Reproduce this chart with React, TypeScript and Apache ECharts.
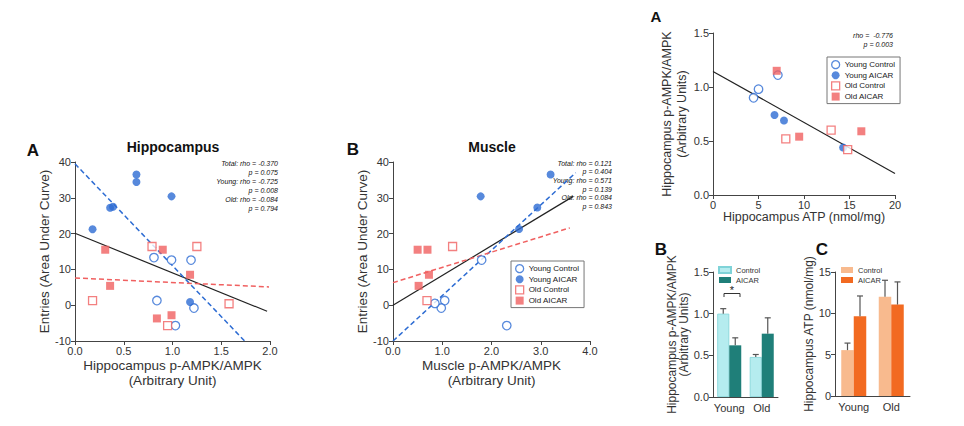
import React, { useEffect, useRef } from "react";
import * as echarts from "echarts";

// ---------- Data ----------
// Panel A (Hippocampus): [p-AMPK/AMPK, entries AUC]
const hippoYoungControl = [[0.81, 13.3], [0.99, 12.6], [1.19, 12.6], [0.84, 1.3], [1.03, -5.7], [1.22, -0.8]];
const hippoYoungAicar = [[0.18, 21.2], [0.36, 27.2], [0.39, 27.5], [0.63, 36.5], [0.63, 34.4], [0.99, 30.4], [1.18, 0.9]];
const hippoOldControl = [[0.79, 16.4], [1.25, 16.4], [0.18, 1.3], [0.95, -5.7], [1.58, 0.4]];
const hippoOldAicar = [[0.31, 15.5], [0.36, 5.4], [0.9, 15.5], [1.18, 8.5], [0.84, -3.7], [0.99, -2.8]];
const hippoTotalFit = [[0, 20.1], [1.97, -1.7]];
const hippoYoungFit = [[0, 39.5], [1.74, -10]];
const hippoOldFit = [[0, 7.6], [1.99, 5.1]];

// Panel B (Muscle)
const muscleYoungControl = [[1.8, 12.6], [1.05, 1.3], [0.98, -0.8], [0.85, 0.5], [2.31, -5.7]];
const muscleYoungAicar = [[1.78, 30.4], [3.2, 36.5], [2.93, 27.3], [2.56, 21.3]];
const muscleOldControl = [[1.21, 16.4], [0.69, 1.3]];
const muscleOldAicar = [[0.5, 15.5], [0.7, 15.5], [0.73, 8.5], [0.52, 5.4]];
const muscleTotalFit = [[0, 0], [3.66, 30.4]];
const muscleYoungFit = [[0, -10], [3.71, 37]];
const muscleOldFit = [[0, 6.3], [3.59, 21.6]];

// Right panel A: [ATP, p-AMPK/AMPK]
const atpYoungControl = [[4.46, 0.9], [5.0, 0.98], [7.13, 1.11]];
const atpYoungAicar = [[6.76, 0.74], [7.8, 0.69], [14.3, 0.44]];
const atpOldControl = [[8.0, 0.52], [12.98, 0.6], [14.8, 0.42]];
const atpOldAicar = [[7.0, 1.15], [9.47, 0.54], [16.3, 0.59]];
const atpFit = [[0, 1.144], [20, 0.2]];

// Bars
const groups = ["Young", "Old"];
const pampkControl = [1.0, 0.48];
const pampkControlTop = [1.06, 0.51];
const pampkAicar = [0.62, 0.76];
const pampkAicarTop = [0.71, 0.95];
const atpControl = [5.55, 12.0];
const atpControlTop = [6.4, 14.0];
const atpAicar = [9.65, 11.06];
const atpAicarTop = [12.1, 13.8];

// ---------- Styles ----------
const FONT = "'Liberation Sans', Arial, Helvetica, sans-serif";
const BLUE = "#2d6cd3";
const RED = "#f06060";
const AXIS = "#444";
const TXT = "#333";

const scatterNames = ["Young Control", "Young AICAR", "Old Control", "Old AICAR"];

function valueAxis(gridIndex: number, min: number, max: number, interval: number, dec: number, extra: any = {}) {
  return {
    type: "value",
    gridIndex,
    min,
    max,
    interval,
    axisLine: { show: true, onZero: false, lineStyle: { color: AXIS, width: 1 } },
    axisTick: { show: true, length: 4, lineStyle: { color: AXIS } },
    axisLabel: {
      fontSize: 11,
      color: TXT,
      fontFamily: FONT,
      margin: 4,
      formatter: (v: number) => v.toFixed(dec),
    },
    splitLine: { show: false },
    nameLocation: "middle",
    nameTextStyle: { fontFamily: FONT, color: TXT, fontSize: 13 },
    ...extra,
  };
}

function scatterSeries(gi: number, sets: number[][][]) {
  const styles = [
    { symbol: "circle", itemStyle: { color: "#ffffff", borderColor: BLUE, borderWidth: 1.3 } },
    { symbol: "circle", itemStyle: { color: BLUE } },
    { symbol: "rect", itemStyle: { color: "#ffffff", borderColor: RED, borderWidth: 1.3 } },
    { symbol: "rect", itemStyle: { color: RED } },
  ];
  return sets.map((d, i) => ({
    type: "scatter",
    name: scatterNames[i],
    xAxisIndex: gi,
    yAxisIndex: gi,
    data: d,
    symbol: styles[i].symbol,
    symbolSize: i === 0 ? 8.5 : 8,
    itemStyle: styles[i].itemStyle,
    z: 3,
  }));
}

function fitSeries(gi: number, data: number[][], color: string, dashed: boolean) {
  return {
    type: "line",
    name: "fit",
    xAxisIndex: gi,
    yAxisIndex: gi,
    data,
    symbol: "none",
    silent: true,
    lineStyle: { color, width: dashed ? 1.5 : 1.2, type: dashed ? [5, 3] : "solid" },
    z: 2,
  };
}

function errorSeries(gi: number, means: number[], tops: number[], offset: number) {
  return {
    type: "custom",
    xAxisIndex: gi,
    yAxisIndex: gi,
    data: means.map((m, i) => [i, m, tops[i]]),
    encode: { x: 0, y: [1, 2] },
    silent: true,
    z: 4,
    renderItem: (params: any, api: any) => {
      const base = api.coord([api.value(0), api.value(1)]);
      const top = api.coord([api.value(0), api.value(2)]);
      const x = base[0] + offset;
      return {
        type: "group",
        children: [
          { type: "line", shape: { x1: x, y1: base[1], x2: x, y2: top[1] }, style: { stroke: "#555", lineWidth: 1.2 } },
          { type: "line", shape: { x1: x - 3, y1: top[1], x2: x + 3, y2: top[1] }, style: { stroke: "#555", lineWidth: 1.2 } },
        ],
      };
    },
  };
}

function scatterLegend(left: number, top: number) {
  return {
    orient: "vertical",
    left,
    top,
    padding: [3, 5, 3, 4],
    borderColor: "#777",
    borderWidth: 1,
    itemWidth: 8,
    itemHeight: 8,
    itemGap: 2,
    textStyle: { fontSize: 8, color: "#222", fontFamily: FONT },
    selectedMode: false,
    data: [
      { name: "Young Control", icon: "circle", itemStyle: { color: "#ffffff", borderColor: BLUE, borderWidth: 1.3 } },
      { name: "Young AICAR", icon: "circle", itemStyle: { color: BLUE } },
      { name: "Old Control", icon: "rect", itemStyle: { color: "#ffffff", borderColor: RED, borderWidth: 1.3 } },
      { name: "Old AICAR", icon: "rect", itemStyle: { color: RED } },
    ],
  };
}

function barLegend(left: number, top: number, prefix: string, c1: string, c2: string) {
  return {
    orient: "vertical",
    left,
    top,
    padding: 0,
    itemWidth: 12,
    itemHeight: 6,
    itemGap: 2,
    textStyle: { fontSize: 7.5, color: "#333", fontFamily: FONT },
    selectedMode: false,
    formatter: (n: string) => n.replace(prefix, ""),
    data: [
      { name: prefix + "Control", icon: "rect", itemStyle: { color: c1 } },
      { name: prefix + "AICAR", icon: "rect", itemStyle: { color: c2 } },
    ],
  };
}

const PAMPK_C = "#b5ecef";
const PAMPK_A = "#1f7f79";
const ATP_C = "#f8ba8e";
const ATP_A = "#f26a21";

function categoryAxis(gi: number) {
  return {
    type: "category",
    gridIndex: gi,
    data: groups,
    axisLine: { show: true, lineStyle: { color: AXIS } },
    axisTick: { show: false },
    axisLabel: { interval: 0, fontSize: 11, color: TXT, fontFamily: FONT, margin: 5 },
  };
}

function text(x: number, y: number, t: string, font: string, align = "center", vAlign = "middle", extra: any = {}) {
  return {
    type: "text",
    x,
    y,
    silent: true,
    style: { text: t, font, textAlign: align, textVerticalAlign: vAlign, fill: "#111", ...extra },
  };
}

export default function App() {
  const ref = useRef<HTMLDivElement>(null);
  useEffect(() => {
    document.body.style.margin = "0";
    if (!ref.current) return;
    const chart = echarts.init(ref.current, undefined, { renderer: "svg" });
    const italic = `italic 7px ${FONT}`;
    const option: any = {
      animation: false,
      backgroundColor: "#ffffff",
      textStyle: { fontFamily: FONT },
      grid: [
        { left: 75, top: 162, width: 195, height: 179 },
        { left: 393, top: 162, width: 197, height: 179 },
        { left: 713, top: 33, width: 182, height: 162 },
        { left: 713, top: 272, width: 65, height: 125 },
        { left: 835, top: 272, width: 75, height: 124 },
      ],
      xAxis: [
        valueAxis(0, 0, 2, 0.5, 1, { name: "Hippocampus p-AMPK/AMPK\n(Arbitrary Unit)", nameGap: 17, nameTextStyle: { fontFamily: FONT, color: TXT, fontSize: 13.5, lineHeight: 15 } }),
        valueAxis(1, 0, 4, 1, 1, { name: "Muscle p-AMPK/AMPK\n(Arbitrary Unit)", nameGap: 17, nameTextStyle: { fontFamily: FONT, color: TXT, fontSize: 13.5, lineHeight: 15 } }),
        valueAxis(2, 0, 20, 5, 0, { name: "Hippocampus ATP (nmol/mg)", nameGap: 14, nameTextStyle: { fontFamily: FONT, color: TXT, fontSize: 12.5 } }),
        categoryAxis(3),
        categoryAxis(4),
      ],
      yAxis: [
        valueAxis(0, -10, 40, 10, 0, { name: "Entries (Area Under Curve)", nameGap: 20, nameTextStyle: { fontFamily: FONT, color: TXT, fontSize: 13.5 } }),
        valueAxis(1, -10, 40, 10, 0, { name: "Entries (Area Under Curve)", nameGap: 19, nameTextStyle: { fontFamily: FONT, color: TXT, fontSize: 13.5 } }),
        valueAxis(2, 0, 1.5, 0.5, 1, { name: "Hippocampus p-AMPK/AMPK\n(Arbitrary Units)", nameGap: 16, nameTextStyle: { fontFamily: FONT, color: TXT, fontSize: 12.5, lineHeight: 15 } }),
        valueAxis(3, 0, 1.5, 0.5, 1, { name: "Hippocampus p-AMPK/AMPK\n(Arbitrary Units)", nameGap: 12, nameTextStyle: { fontFamily: FONT, color: TXT, fontSize: 12, lineHeight: 12 } }),
        valueAxis(4, 0, 15, 5, 0, { name: "Hippocampus ATP (nmol/mg)", nameGap: 12, nameTextStyle: { fontFamily: FONT, color: TXT, fontSize: 12 } }),
      ],
      legend: [
        scatterLegend(511, 261),
        scatterLegend(827, 57),
        barLegend(718, 266, "p-AMPK ", PAMPK_C, PAMPK_A),
        barLegend(841, 266, "ATP ", ATP_C, ATP_A),
      ],
      series: [
        fitSeries(0, hippoTotalFit, "#222", false),
        fitSeries(0, hippoYoungFit, BLUE, true),
        fitSeries(0, hippoOldFit, RED, true),
        ...scatterSeries(0, [hippoYoungControl, hippoYoungAicar, hippoOldControl, hippoOldAicar]),
        fitSeries(1, muscleTotalFit, "#222", false),
        fitSeries(1, muscleYoungFit, BLUE, true),
        fitSeries(1, muscleOldFit, RED, true),
        ...scatterSeries(1, [muscleYoungControl, muscleYoungAicar, muscleOldControl, muscleOldAicar]),
        fitSeries(2, atpFit, "#222", false),
        ...scatterSeries(2, [atpYoungControl, atpYoungAicar, atpOldControl, atpOldAicar]),
        {
          type: "bar", name: "p-AMPK Control", xAxisIndex: 3, yAxisIndex: 3, data: pampkControl,
          barWidth: 12, barGap: "0%", itemStyle: { color: PAMPK_C, borderColor: "#7fd3d8", borderWidth: 0.8 },
        },
        {
          type: "bar", name: "p-AMPK AICAR", xAxisIndex: 3, yAxisIndex: 3, data: pampkAicar,
          barWidth: 12, barGap: "0%", itemStyle: { color: PAMPK_A },
        },
        errorSeries(3, pampkControl, pampkControlTop, -6),
        errorSeries(3, pampkAicar, pampkAicarTop, 6),
        {
          type: "bar", name: "ATP Control", xAxisIndex: 4, yAxisIndex: 4, data: atpControl,
          barWidth: 12.5, barGap: "0%", itemStyle: { color: ATP_C },
        },
        {
          type: "bar", name: "ATP AICAR", xAxisIndex: 4, yAxisIndex: 4, data: atpAicar,
          barWidth: 12.5, barGap: "0%", itemStyle: { color: ATP_A },
        },
        errorSeries(4, atpControl, atpControlTop, -6.25),
        errorSeries(4, atpAicar, atpAicarTop, 6.25),
      ],
      graphic: [
        text(33, 150, "A", `bold 17px ${FONT}`),
        text(173, 147, "Hippocampus", `bold 14px ${FONT}`),
        text(353, 149, "B", `bold 17px ${FONT}`),
        text(492, 147, "Muscle", `bold 14px ${FONT}`),
        text(656, 16, "A", `bold 15px ${FONT}`),
        text(661, 249, "B", `bold 17px ${FONT}`),
        text(822, 249, "C", `bold 17px ${FONT}`),
        text(278, 159, "Total: rho = -0.370\np = 0.075\nYoung: rho = -0.725\np = 0.008\nOld: rho = -0.084\np = 0.794", italic, "right", "top", { lineHeight: 9 }),
        text(612, 159, "Total: rho = 0.121\np = 0.404\nYoung: rho = 0.571\np = 0.139\nOld: rho = 0.084\np = 0.843", italic, "right", "top", { lineHeight: 8.6 }),
        text(893, 31, "rho =  -0.776\np = 0.003", italic, "right", "top", { lineHeight: 9 }),
        {
          type: "polyline",
          silent: true,
          shape: { points: [[724, 297], [724, 293.5], [740, 293.5], [740, 297]] },
          style: { stroke: "#333", lineWidth: 1, fill: "none" },
        },
        text(732, 290, "*", `11px ${FONT}`, "center", "middle", { fill: "#222" }),
      ],
    };
    chart.setOption(option);
    return () => chart.dispose();
  }, []);
  return <div ref={ref} style={{ width: 964, height: 426 }} />;
}
